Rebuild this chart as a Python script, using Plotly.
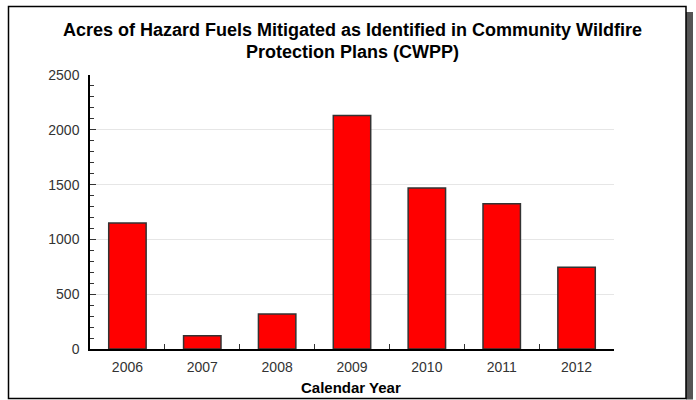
import plotly.graph_objects as go

years = ["2006", "2007", "2008", "2009", "2010", "2011", "2012"]
acres = [1150, 120, 320, 2130, 1470, 1325, 745]
y_ticks = [0, 500, 1000, 1500, 2000, 2500]

title_line1 = "Acres of Hazard Fuels Mitigated as Identified in Community Wildfire"
title_line2 = "Protection Plans (CWPP)"
x_title = "Calendar Year"

W, H = 696, 400
L, R, T, B = 90, 614, 75, 349


def px(x):
    return (x - L) / (R - L)


def py(y):
    return (B - y) / (B - T)


FONT = "Liberation Sans, Arial, sans-serif"

fig = go.Figure(
    go.Bar(
        x=years,
        y=acres,
        marker=dict(color="#ff0000", line=dict(color="#333333", width=1.5)),
        width=0.5,
    )
)

fig.update_layout(
    width=W,
    height=H,
    margin=dict(l=L, r=W - R, t=T, b=H - B),
    paper_bgcolor="white",
    plot_bgcolor="white",
    showlegend=False,
    font=dict(family=FONT, size=14, color="#333333"),
)

fig.update_xaxes(
    type="category",
    tickson="boundaries",
    ticks="inside",
    ticklen=5,
    tickcolor="#333333",
    showline=True,
    linecolor="black",
    linewidth=1.5,
    showgrid=False,
    ticklabelstandoff=4,
    tickfont=dict(size=14, color="#333333"),
)

fig.update_yaxes(
    range=[0, 2500],
    tickvals=y_ticks,
    ticks="inside",
    ticklen=6,
    tickcolor="#333333",
    showline=True,
    linecolor="black",
    linewidth=1.5,
    showgrid=True,
    gridcolor="#e6e6e6",
    gridwidth=1,
    zeroline=False,
    ticklabelstandoff=6,
    minor=dict(dtick=100, ticks="inside", ticklen=4, tickcolor="#333333", showgrid=False),
    tickfont=dict(size=14, color="#333333"),
)

annotations = [
    dict(text="<b>" + title_line1 + "</b>", x=0.5, y=py(30), xref="paper", yref="paper",
         showarrow=False, xanchor="center", yanchor="middle",
         font=dict(family=FONT, size=18, color="black")),
    dict(text="<b>" + title_line2 + "</b>", x=0.5, y=py(52), xref="paper", yref="paper",
         showarrow=False, xanchor="center", yanchor="middle",
         font=dict(family=FONT, size=18, color="black")),
    dict(text="<b>" + x_title + "</b>", x=px(351), y=py(387), xref="paper", yref="paper",
         showarrow=False, xanchor="center", yanchor="middle",
         font=dict(family=FONT, size=15, color="black")),
]
fig.update_layout(annotations=annotations)

shapes = [
    dict(type="rect", xref="paper", yref="paper",
         x0=px(686), x1=px(693), y0=py(399.5), y1=py(12),
         fillcolor="#555555", line=dict(width=0), layer="below"),
    dict(type="rect", xref="paper", yref="paper",
         x0=px(8.5), x1=px(686), y0=py(398.5), y1=py(6.5),
         fillcolor="rgba(0,0,0,0)", line=dict(color="black", width=1.5), layer="below"),
]
fig.update_layout(shapes=shapes)

fig.write_html(
    "out.html",
    config={"displayModeBar": False},
    post_script="document.body.style.margin='0px';document.body.style.overflow='hidden';",
)
